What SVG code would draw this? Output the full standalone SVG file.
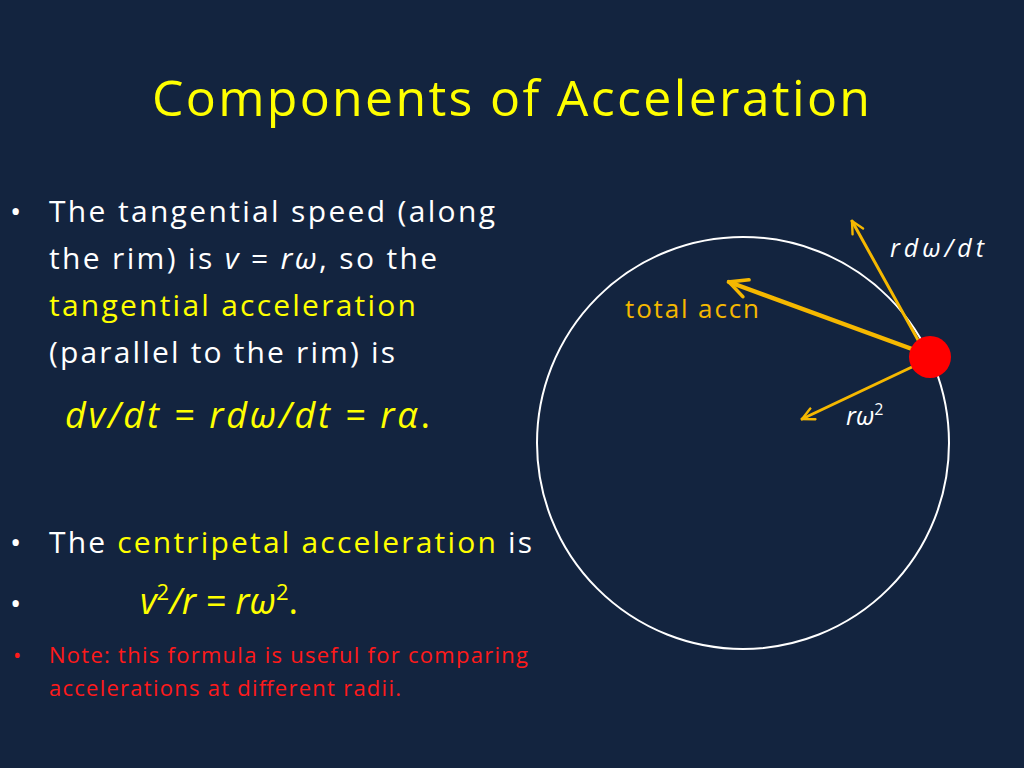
<svg xmlns="http://www.w3.org/2000/svg" width="1024" height="768" viewBox="0 0 1024 768">
<style>
text{font-family:"Open Sans",Lato,"Liberation Sans",sans-serif;}
.b{fill:#fff;font-size:30px}
.y{fill:#ffff00}
.o{fill:#f5b800}
.r{fill:#ff1a1a;font-size:22px}
.arr{stroke:#f5b800;fill:none;stroke-linecap:round;stroke-linejoin:round}
</style>
<defs>
<marker id="ah" viewBox="0 0 10 10" refX="9" refY="5" markerWidth="5" markerHeight="5" orient="auto-start-reverse" markerUnits="strokeWidth"><path d="M1,1 L9,5 L1,9" fill="none" stroke="#f5b800" stroke-width="1.6" stroke-linecap="round"/></marker>
</defs>
<rect width="1024" height="768" fill="#13243f"/>
<text x="152" y="116" class="y" font-size="50" textLength="718">Components of Acceleration</text>
<g id="text1" class="b">
<text x="10" y="222">•</text>
<text x="49" y="222" textLength="446">The tangential speed (along</text>
<text x="49" y="269" textLength="388">the rim) is <tspan font-style="italic">v</tspan> = <tspan font-style="italic">rω</tspan>, so the</text>
<text x="49" y="316" class="y" textLength="367">tangential acceleration</text>
<text x="49" y="363" textLength="346">(parallel to the rim) is</text>
<text x="65" y="428" class="y" font-size="36" font-style="italic" textLength="365">dv/dt = rdω/dt = rα<tspan font-style="normal">.</tspan></text>
<text x="10" y="553">•</text>
<text x="49" y="553" textLength="483">The <tspan class="y">centripetal acceleration</tspan> is</text>
<text x="10" y="614">•</text>
<text x="140" y="614" class="y" font-size="36" font-style="italic">v<tspan font-size="22" dy="-14" font-style="normal">2</tspan><tspan dy="14">/r = rω</tspan><tspan font-size="22" dy="-14" font-style="normal">2</tspan><tspan dy="14" font-style="normal">.</tspan></text>
</g>
<g id="note">
<text x="13" y="663" class="r">•</text>
<text x="49" y="663" class="r" textLength="479">Note: this formula is useful for comparing</text>
<text x="49" y="696" class="r" textLength="352">accelerations at different radii.</text>
</g>
<g id="wheel"><circle cx="743" cy="443" r="206" fill="none" stroke="#fff" stroke-width="2"/></g>
<g id="connectors">
<line class="arr" x1="918" y1="340" x2="852" y2="221" stroke-width="3" marker-end="url(#ah)"/>
<line class="arr" x1="912" y1="349" x2="729" y2="282" stroke-width="4.5" marker-end="url(#ah)"/>
<line class="arr" x1="912" y1="367" x2="802" y2="419" stroke-width="3" marker-end="url(#ah)"/>
</g>
<g id="dot"><circle cx="930" cy="357" r="21" fill="#ff0000"/></g>
<g id="labels">
<text x="890" y="257" fill="#fff" font-size="25" font-style="italic" textLength="94">rdω/dt</text>
<text x="625" y="318" class="o" font-size="26" textLength="134">total accn</text>
<text x="846" y="425" fill="#fff" font-size="25" font-style="italic">rω<tspan font-size="16" dy="-10" font-style="normal">2</tspan></text>
</g>
</svg>
